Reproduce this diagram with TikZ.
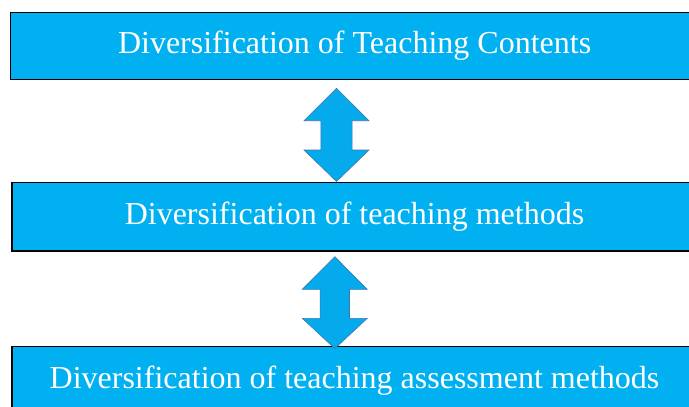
\documentclass[tikz,border=0pt]{standalone}
\usepackage{fontspec}
\setmainfont{Liberation Serif}
\definecolor{boxcyan}{RGB}{0,176,240}
\definecolor{arrowcyan}{RGB}{5,170,236}
\definecolor{arrowedge}{RGB}{62,118,176}
\tikzset{
  stagebox/.style={draw=black,line width=1.2pt,fill=boxcyan,text=white,
    font=\fontsize{32}{38}\selectfont,inner sep=0pt,anchor=center},
  dblarrow/.style={draw=arrowedge,line width=0.6pt,fill=arrowcyan,line join=miter}
}
\begin{document}
\begin{tikzpicture}[x=1pt,y=-1pt]
            \useasboundingbox (0,0) rectangle (689,407);
            \fill[white] (0,0) rectangle (689,407);
            \node[stagebox,minimum width=688.7pt,minimum height=67.2pt] (contents) at (354.6,45.9) {Diversification of Teaching Contents};
            \node[stagebox,minimum width=685pt,minimum height=68.5pt] (methods) at (354.5,216.7) {Diversification of teaching methods};
            \node[stagebox,minimum width=685pt,minimum height=68.5pt] (assessment) at (354.5,380.8) {Diversification of teaching assessment methods};
            \coordinate (tip1) at (336.5,88.3);
            \coordinate (tip2) at (334.8,256.7);
            \draw[dblarrow] (tip1) -- ++(32.5,32.4) -- ++(-16.9,0) -- ++(0,29.3) -- ++(16.9,0)
                -- ++(-32.5,31.5) -- ++(-32.5,-31.5) -- ++(16.9,0) -- ++(0,-29.3) -- ++(-16.9,0) -- cycle;
            \draw[dblarrow] (tip2) -- ++(32.5,32.6) -- ++(-17.8,0) -- ++(0,29) -- ++(17.8,0)
                -- ++(-32.5,30.3) -- ++(-32.5,-30.3) -- ++(17.8,0) -- ++(0,-29) -- ++(-17.8,0) -- cycle;
        \end{tikzpicture}
\end{document}
